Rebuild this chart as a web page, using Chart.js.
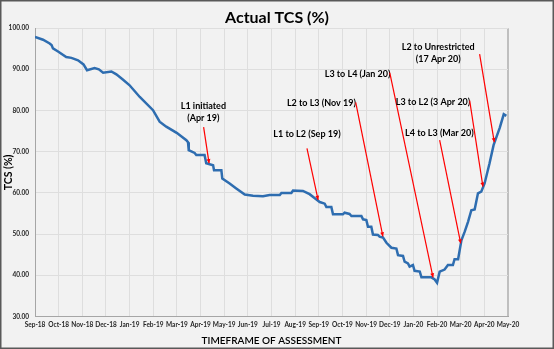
<!DOCTYPE html>
<html>
<head>
<meta charset="utf-8">
<script src="https://cdn.jsdelivr.net/npm/chart.js@4.4.1/dist/chart.umd.min.js"></script>
<style>
  html, body { margin: 0; padding: 0; background: #f2f2f2; }
  #wrap { width: 554px; height: 349px; }
</style>
</head>
<body>
<div id="wrap"><canvas id="tcsChart" width="554" height="349"></canvas></div>
<script>
// month tick labels, one per gridline
var monthLabels = ['Sep-18', 'Oct-18', 'Nov-18', 'Dec-18', 'Jan-19', 'Feb-19', 'Mar-19', 'Apr-19', 'May-19', 'Jun-19',
    'Jul-19', 'Aug-19', 'Sep-19', 'Oct-19', 'Nov-19', 'Dec-19', 'Jan-20', 'Feb-20', 'Mar-20', 'Apr-20', 'May-20'];

// assessment dates as months since Sep-18
var assessMonth = [0, 0.34, 0.62, 0.70, 0.76, 0.99, 1.32, 1.54, 1.82, 2.05, 2.20, 2.52, 2.70, 2.88, 3.23, 3.44, 3.70, 3.99,
    4.43, 4.99, 5.27, 5.55, 5.99, 6.40, 6.47, 6.50, 6.75, 6.82, 7.17, 7.24, 7.53, 7.57, 7.88, 7.92, 8.23, 8.51, 8.87,
    9.22, 9.64, 9.92, 10.35, 10.42, 10.84, 10.91, 11.33, 11.61, 11.90, 12.04, 12.25, 12.32, 12.53, 12.60, 13.02, 13.09,
    13.30, 13.38, 13.80, 13.87, 14.01, 14.08, 14.22, 14.29, 14.50, 14.57, 14.71, 14.86, 15.07, 15.28, 15.35, 15.56,
    15.63, 15.77, 15.84, 15.98, 16.05, 16.27, 16.34, 16.76, 16.90, 17.00, 17.11, 17.32, 17.46, 17.67, 17.74, 17.89,
    18.03, 18.17, 18.31, 18.45, 18.59, 18.73, 18.87, 19.01, 19.22, 19.39, 19.65, 19.82, 19.93];

// actual TCS (%)
var tcs = [97.9, 97.2, 96.3, 95.9, 95.1, 94.3, 93.0, 92.8, 92.2, 91.2, 89.8, 90.3, 90.0, 89.2, 89.5, 88.8, 87.6, 86.2,
    83.3, 80.1, 77.3, 76.1, 74.6, 72.8, 72.3, 70.4, 69.7, 69.2, 69.2, 67.2, 66.7, 65.5, 65.5, 63.5, 62.3, 61.1, 59.6,
    59.3, 59.2, 59.5, 59.5, 60.0, 60.0, 60.6, 60.5, 59.7, 58.4, 57.8, 57.4, 56.6, 56.6, 54.8, 54.8, 55.2,
    54.9, 54.4, 54.4, 53.6, 53.4, 51.8, 51.8, 49.9, 49.8, 49.4, 49.2, 47.9, 46.7, 46.5, 44.9, 44.7,
    43.3, 42.9, 42.1, 42.5, 41.1, 40.9, 39.5, 39.5, 39.0, 38.2, 40.9, 41.4, 42.5, 42.5, 43.9, 43.9,
    48.5, 50.6, 53.0, 55.8, 56.0, 59.9, 60.3, 62.3, 67.2, 71.6, 75.8, 79.1, 78.7];

// level change notes and the month each arrow points at
var noteLines = [['L1 initiated', '(Apr 19)'], ['L1 to L2 (Sep 19)'], ['L2 to L3 (Nov 19)'], ['L3 to L4 (Jan 20)'],
    ['L3 to L2 (3 Apr 20)'], ['L4 to L3 (Mar 20)'], ['L2 to Unrestricted', '(17 Apr 20)']];
var noteMonth = [7.36, 11.97, 14.71, 16.83, 18.94, 18.0, 19.42];

// where each note sits (month, value) and where its arrow starts
var noteLayout = [
    { tx: 7.12, ty: 81.2, ax: 7.13, ay: 76.0 },
    { tx: 11.50, ty: 74.3, ax: 11.50, ay: 70.8 },
    { tx: 12.11, ty: 81.8, ax: 13.56, ay: 82.0 },
    { tx: 13.64, ty: 88.9, ax: 15.00, ay: 89.2 },
    { tx: 16.83, ty: 82.1, ax: 18.38, ay: 82.4 },
    { tx: 17.10, ty: 74.5, ax: 17.11, ay: 72.8 },
    { tx: 17.05, ty: 95.4, ax: 18.80, ay: 93.7 }
];

var FONT = "Lato, 'Open Sans', sans-serif";

function valueAt(m) {
    for (var i = 1; i < assessMonth.length; i++) {
        if (assessMonth[i] >= m) {
            var t = (m - assessMonth[i - 1]) / (assessMonth[i] - assessMonth[i - 1]);
            return tcs[i - 1] + t * (tcs[i] - tcs[i - 1]);
        }
    }
    return tcs[tcs.length - 1];
}

var frame = {
    id: 'frame',
    beforeDraw: function(chart) {
        var c = chart.ctx;
        c.save();
        c.fillStyle = '#f2f2f2';
        c.fillRect(0, 0, chart.width, chart.height);
        c.strokeStyle = '#595959';
        c.lineWidth = 1.5;
        c.strokeRect(0.75, 0.75, chart.width - 1.5, chart.height - 1.5);
        c.restore();
    }
};

var callouts = {
    id: 'callouts',
    afterDatasetsDraw: function(chart) {
        var c = chart.ctx, xs = chart.scales.x, ys = chart.scales.y;
        c.save();
        c.font = 'bold 9px ' + FONT;
        c.textAlign = 'center';
        c.textBaseline = 'middle';
        noteLayout.forEach(function(n, i) {
            c.fillStyle = '#000';
            var lines = noteLines[i];
            var tx = xs.getPixelForValue(n.tx), ty = ys.getPixelForValue(n.ty);
            lines.forEach(function(s, k) { c.fillText(s, tx, ty + k * 12); });

            var x0 = xs.getPixelForValue(n.ax), y0 = ys.getPixelForValue(n.ay);
            var x1 = xs.getPixelForValue(noteMonth[i]), y1 = ys.getPixelForValue(valueAt(noteMonth[i])) - 1;
            var ang = Math.atan2(y1 - y0, x1 - x0);
            c.strokeStyle = '#ff0000';
            c.fillStyle = '#ff0000';
            c.lineWidth = 1.2;
            c.beginPath();
            c.moveTo(x0, y0);
            c.lineTo(x1, y1);
            c.stroke();
            c.beginPath();
            c.moveTo(x1, y1);
            c.lineTo(x1 - 4.5 * Math.cos(ang - 0.45), y1 - 4.5 * Math.sin(ang - 0.45));
            c.lineTo(x1 - 4.5 * Math.cos(ang + 0.45), y1 - 4.5 * Math.sin(ang + 0.45));
            c.closePath();
            c.fill();
        });
        c.restore();
    }
};

var ctx = document.getElementById('tcsChart').getContext('2d');

var tcsChart = new Chart(ctx, {
    type: 'line',
    data: {
        datasets: [{
            label: 'Actual TCS (%)',
            data: assessMonth.map(function(m, i) { return { x: m, y: tcs[i] }; }),
            borderColor: '#2e6db0',
            backgroundColor: '#2e6db0',
            borderWidth: 2.5,
            pointRadius: 0,
            tension: 0,
            fill: false
        }]
    },
    options: {
        responsive: false,
        animation: false,
        layout: { padding: { left: 2, right: 2, top: 0, bottom: 2 } },
        plugins: {
            legend: { display: false },
            tooltip: { enabled: false },
            title: {
                display: true,
                text: 'Actual TCS (%)',
                color: '#000',
                font: { family: FONT, size: 16, weight: 'bold' },
                padding: { top: 8, bottom: 1 }
            }
        },
        scales: {
            x: {
                type: 'linear',
                min: 0,
                max: 20,
                afterFit: function(s) { s.height = 30.5; },
                border: { color: '#a6a6a6', width: 1 },
                grid: {
                    drawTicks: false,
                    color: function(c) { return c.index === 20 ? '#bfbfbf' : '#dedede'; },
                    lineWidth: function(c) { return c.index === 20 ? 2 : 1; }
                },
                ticks: {
                    stepSize: 1,
                    autoSkip: false,
                    maxRotation: 0,
                    padding: 5,
                    color: '#262626',
                    font: { family: FONT, size: 6.5, weight: 'bold' },
                    callback: function(v) { return monthLabels[v]; }
                },
                title: {
                    display: true,
                    text: 'TIMEFRAME OF ASSESSMENT',
                    color: '#000',
                    font: { family: FONT, size: 10, weight: '600' },
                    padding: { top: 0, bottom: 0 }
                }
            },
            y: {
                min: 30,
                max: 100,
                afterFit: function(s) { s.width = 33; },
                border: { color: '#a6a6a6', width: 1 },
                grid: { drawTicks: false, color: '#dedede' },
                ticks: {
                    stepSize: 10,
                    padding: 6,
                    color: '#262626',
                    font: { family: FONT, size: 6.5, weight: 'bold' },
                    callback: function(v) { return v.toFixed(2); }
                },
                title: {
                    display: true,
                    text: 'TCS (%)',
                    color: '#000',
                    font: { family: FONT, size: 10.5, weight: 'bold' },
                    padding: { top: 0, bottom: 0 }
                }
            },
            // empty right-hand margin so the title stays centred on the full width
            margin: {
                type: 'linear',
                position: 'right',
                min: 0,
                max: 1,
                afterFit: function(s) { s.width = 44; },
                border: { display: false },
                grid: { display: false },
                ticks: { display: false }
            }
        }
    },
    plugins: [frame, callouts]
});
</script>
</body>
</html>
